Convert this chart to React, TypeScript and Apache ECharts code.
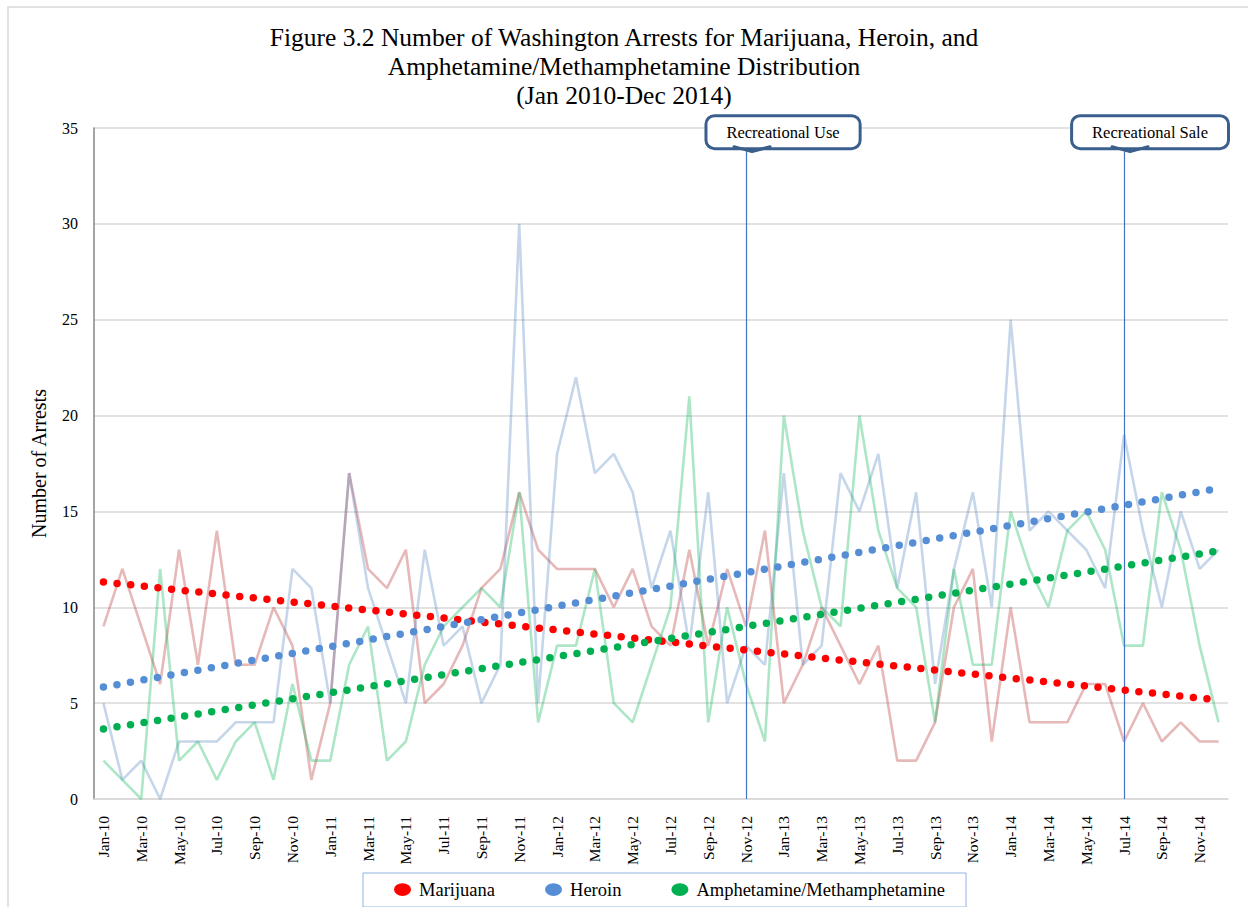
import React, { useEffect, useRef } from 'react';
import * as echarts from 'echarts';

const monthNames = ['Jan', 'Feb', 'Mar', 'Apr', 'May', 'Jun', 'Jul', 'Aug', 'Sep', 'Oct', 'Nov', 'Dec'];
const yearSuffixes = ['10', '11', '12', '13', '14'];
const categories = yearSuffixes.flatMap((y) => monthNames.map((m) => `${m}-${y}`));

const marijuana = [
  9, 12, 9, 6, 13, 7, 14, 7, 7, 10, 8, 1,
  5, 17, 12, 11, 13, 5, 6, 8, 11, 12, 16, 13,
  12, 12, 12, 10, 12, 9, 8, 13, 8, 12, 9, 14,
  5, 7, 10, 8, 6, 8, 2, 2, 4, 10, 12, 3,
  10, 4, 4, 4, 6, 6, 3, 5, 3, 4, 3, 3,
];
const heroin = [
  5, 1, 2, 0, 3, 3, 3, 4, 4, 4, 12, 11,
  5, 17, 11, 8, 5, 13, 8, 9, 5, 7, 30, 5,
  18, 22, 17, 18, 16, 11, 14, 8, 16, 5, 8, 7,
  17, 7, 8, 17, 15, 18, 11, 16, 6, 12, 16, 10,
  25, 14, 15, 14, 13, 11, 19, 14, 10, 15, 12, 13,
];
const amphetamine = [
  2, 1, 0, 12, 2, 3, 1, 3, 4, 1, 6, 2,
  2, 7, 9, 2, 3, 7, 9, 10, 11, 10, 16, 4,
  8, 8, 12, 5, 4, 7, 10, 21, 4, 10, 6, 3,
  20, 14, 10, 9, 20, 14, 11, 10, 4, 12, 7, 7,
  15, 12, 10, 14, 15, 13, 8, 8, 16, 13, 8, 4,
];

// Linear trend lines: value at first and last month
const trendMarijuana = [11.32, 5.16];
const trendHeroin = [5.84, 16.2];
const trendAmphetamine = [3.65, 12.94];

const seriesNames = ['Marijuana', 'Heroin', 'Amphetamine/Methamphetamine'];
const eventLabels = ['Recreational Use', 'Recreational Sale'];
const eventMonths = ['Nov-12', 'Jul-14'];
const eventLabelOffsets = [37, 26];
const eventLineTop = 34;

const yTicks = { min: 0, max: 35, interval: 5 };

const FONT = "'Liberation Serif', 'Times New Roman', serif";
const BOX_BORDER = '#3A5F8C';

export default function App() {
  const ref = useRef<HTMLDivElement>(null);

  useEffect(() => {
    if (!ref.current) return;
    const chart = echarts.init(ref.current, undefined, { renderer: 'svg' });

    const trendPts = (t: number[]) => [
      [categories[0], t[0]],
      [categories[categories.length - 1], t[1]],
    ];

    const dataLine = (name: string, data: number[], color: string, opacity: number, extra: any = {}) => ({
      name,
      type: 'line',
      data,
      symbol: 'none',
      silent: true,
      z: 2,
      lineStyle: { color, width: 2.6, opacity },
      itemStyle: { color },
      ...extra,
    });

    const trendLine = (name: string, t: number[], color: string) => ({
      name,
      type: 'line',
      data: trendPts(t),
      symbol: 'none',
      silent: true,
      z: 5,
      itemStyle: { color },
      lineStyle: { color, width: 7.5, type: [0, 13.7], cap: 'round' },
    });

    const boxLabel = (text: string, offsetX: number) => ({
      show: true,
      position: 'end',
      distance: 0,
      formatter: text,
      offset: [offsetX, 0],
      fontFamily: FONT,
      fontSize: 16.5,
      lineHeight: 18,
      color: '#000',
      backgroundColor: '#fff',
      borderColor: BOX_BORDER,
      borderWidth: 3,
      borderRadius: 7,
      padding: [6, 19, 6, 19],
    });

    const option: any = {
      animation: false,
      graphic: [
        {
          id: 'frame',
          type: 'rect',
          shape: { x: 8, y: 7, width: 1260, height: 920 },
          style: { fill: 'none', stroke: '#D9D9D9', lineWidth: 1.5 },
          silent: true,
          z: -10,
        },
      ],
      title: {
        text: 'Figure 3.2 Number of Washington Arrests for Marijuana, Heroin, and\nAmphetamine/Methamphetamine Distribution\n(Jan 2010-Dec 2014)',
        left: 'center',
        top: 18,
        textStyle: {
          fontFamily: FONT,
          fontSize: 25.5,
          lineHeight: 29,
          fontWeight: 'normal',
          color: '#000',
          align: 'center',
        },
      },
      legend: {
        data: seriesNames,
        left: 363,
        top: 873,
        padding: [7, 21, 8, 31],
        itemGap: 50,
        itemWidth: 17,
        itemHeight: 13,
        icon: 'path://M0 6A8 6 0 1 0 16 6A8 6 0 1 0 0 6Z',
        borderColor: '#8EB4E3',
        borderWidth: 1,
        itemStyle: { borderWidth: 0 },
        textStyle: { fontFamily: FONT, fontSize: 18.5, color: '#000', padding: [0, 0, 0, 3] },
      },
      grid: { left: 94, right: 20, top: 128, bottom: 108, containLabel: false },
      xAxis: {
        type: 'category',
        data: categories,
        boundaryGap: true,
        axisTick: { show: false },
        axisLine: { lineStyle: { color: '#D9D9D9', width: 1.5 } },
        axisLabel: {
          interval: 1,
          rotate: 90,
          fontFamily: FONT,
          fontSize: 15.5,
          color: '#000',
          margin: 17,
        },
        splitLine: { show: false },
      },
      yAxis: {
        type: 'value',
        min: yTicks.min,
        max: yTicks.max,
        interval: yTicks.interval,
        name: 'Number of Arrests',
        nameLocation: 'middle',
        nameGap: 45,
        nameRotate: 90,
        nameTextStyle: { fontFamily: FONT, fontSize: 20, color: '#000' },
        axisLine: { show: true, lineStyle: { color: '#868686', width: 1.5 } },
        axisTick: { show: false },
        axisLabel: { fontFamily: FONT, fontSize: 16, color: '#000', margin: 16 },
        splitLine: { lineStyle: { color: '#D9D9D9', width: 1.5 } },
      },
      series: [
        dataLine('Marijuana arrests', marijuana, '#C0504D', 0.4, {
          markLine: {
            silent: true,
            symbol: 'none',
            lineStyle: { color: '#4472C4', width: 1.2, type: 'solid' },
            data: eventMonths.map((m, i) => [
              { coord: [m, 0], label: boxLabel(eventLabels[i], eventLabelOffsets[i]) },
              { coord: [m, eventLineTop] },
            ]),
          },
        }),
        dataLine('Heroin arrests', heroin, '#4F81BD', 0.32),
        dataLine('Amphetamine/Methamphetamine arrests', amphetamine, '#00B050', 0.32),
        trendLine(seriesNames[0], trendMarijuana, '#FF0000'),
        trendLine(seriesNames[1], trendHeroin, '#558ED5'),
        trendLine(seriesNames[2], trendAmphetamine, '#00B050'),
      ],
    };

    chart.setOption(option);

    // small pointer notches under the annotation boxes, anchored at the event lines
    const notches = eventMonths.map((m, i) => {
      const p = chart.convertToPixel({ gridIndex: 0 }, [m, eventLineTop]) as number[];
      const x = p[0] + 6;
      const y = p[1] - 0.5;
      return {
        id: 'notch' + i,
        type: 'polyline',
        z: 100,
        silent: true,
        shape: { points: [[x - 18, y], [x, y + 5], [x + 18, y]] },
        style: { fill: 'none', stroke: BOX_BORDER, lineWidth: 3, lineJoin: 'round', lineCap: 'round' },
      };
    });
    chart.setOption({ graphic: notches });

    return () => chart.dispose();
  }, []);

  return (
    <div
      ref={ref}
      style={{ position: 'fixed', left: 0, top: 0, width: 1248, height: 907, background: '#fff' }}
    />
  );
}
